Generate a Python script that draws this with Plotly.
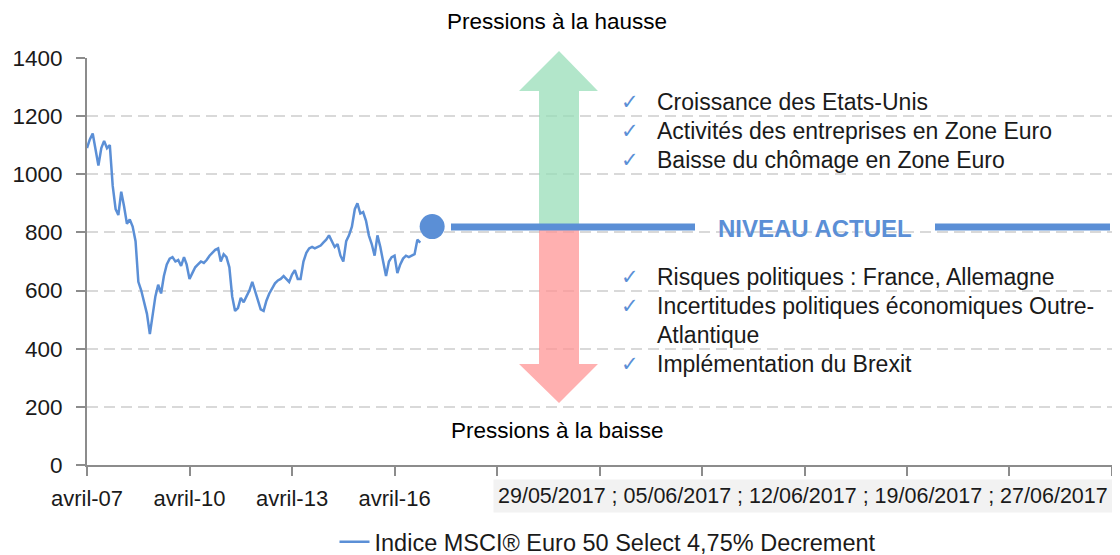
import plotly.graph_objects as go
import pandas as pd

# ---------------- data ----------------
start_month = "2007-04-01"
msci_values = [
    1090, 1120, 1140, 1080, 1030, 1090, 1115, 1090, 1100, 960,
    880, 860, 940, 890, 830, 845, 820, 770, 630, 600,
    560, 520, 450, 520, 580, 620, 590, 650, 690, 710,
    715, 700, 705, 685, 715, 690, 640, 660, 680, 690,
    700, 695, 705, 720, 730, 740, 745, 700, 725, 715,
    680, 580, 530, 540, 575, 560, 580, 600, 630, 600,
    560, 535, 530, 565, 590, 610, 625, 635, 640, 650,
    640, 630, 655, 670, 640, 640, 700, 730, 745, 750,
    745, 750, 755, 765, 775, 790, 770, 750, 760, 720,
    700, 770, 790, 820, 880, 900, 865, 870, 840, 790,
    760, 720, 790, 750, 700, 650, 700, 715, 720, 660,
    690, 710, 720, 715, 720, 725, 775, 765,
]
msci_dates = pd.date_range(start_month, periods=len(msci_values), freq="MS")

current_date = ["2017-05-08"]
current_level = [820]

x_tickvals = ["2007-04-01", "2010-04-01", "2013-04-01", "2016-04-01", "2019-04-01",
              "2022-04-01", "2025-04-01", "2028-04-01", "2031-04-01", "2034-04-01",
              "2037-04-01"]
x_ticktext = ["avril-07", "avril-10", "avril-13", "avril-16", "", "", "", "", "", "", ""]
y_tickvals = [0, 200, 400, 600, 800, 1000, 1200, 1400]

series_name = "Indice MSCI® Euro 50 Select 4,75% Decrement"
title_up = "Pressions à la hausse"
title_down = "Pressions à la baisse"
level_label = "NIVEAU ACTUEL"
upside_factors = ["Croissance des Etats-Unis",
                  "Activités des entreprises en Zone Euro",
                  "Baisse du chômage en Zone Euro"]
downside_factors = ["Risques politiques : France, Allemagne",
                    "Incertitudes politiques économiques Outre-\nAtlantique",
                    "Implémentation du Brexit"]
date_strip = "29/05/2017 ; 05/06/2017 ; 12/06/2017 ; 19/06/2017 ; 27/06/2017"

# ---------------- styling ----------------
# the page body has an 8px margin, so the figure is drawn 8px in from the corner
OFF = 8
W, H = 1120 - OFF, 555 - OFF
PL, PT, PR, PB = 87, 58, 1112, 465          # plot area in page pixels
ML, MT = PL - OFF, PT - OFF
MR, MB = W - (PR - OFF), H - (PB - OFF)
PW, PH = PR - PL, PB - PT
BLUE = "#5B8FD6"
TXT = "#1a1a1a"
FONT = "Liberation Sans, Arial, sans-serif"


def px(x):
    return (x - PL) / PW


def py(y):
    return (PB - y) / PH


fig = go.Figure()
fig.add_trace(go.Scatter(
    x=msci_dates, y=msci_values, mode="lines", name=series_name,
    line=dict(color=BLUE, width=2.5), showlegend=True))
fig.add_trace(go.Scatter(
    x=current_date, y=current_level, mode="markers",
    marker=dict(color=BLUE, size=25), showlegend=False, cliponaxis=False))

shapes = []
# green up arrow
g = [(559, 51), (598, 91), (579, 91), (579, 227), (539, 227), (539, 91), (519, 91)]
path = "M " + " L ".join(f"{px(a):.4f},{py(b):.4f}" for a, b in g) + " Z"
shapes.append(dict(type="path", xref="paper", yref="paper", path=path,
                   fillcolor="rgba(148,221,181,0.72)", line=dict(width=0), layer="above"))
# red down arrow
r = [(559, 403), (598, 364), (579, 364), (579, 227), (539, 227), (539, 364), (519, 364)]
path = "M " + " L ".join(f"{px(a):.4f},{py(b):.4f}" for a, b in r) + " Z"
shapes.append(dict(type="path", xref="paper", yref="paper", path=path,
                   fillcolor="rgba(255,146,146,0.72)", line=dict(width=0), layer="above"))
# current level lines
for x0, x1 in [(451, 695), (935, 1110)]:
    shapes.append(dict(type="line", xref="paper", yref="paper",
                       x0=px(x0), x1=px(x1), y0=py(227), y1=py(227),
                       line=dict(color=BLUE, width=7), layer="above"))

ann = []


def text(t, x, y, size, color=TXT, xanchor="center", family=FONT, **kw):
    ann.append(dict(text=t, x=px(x), y=py(y), xref="paper", yref="paper",
                    xanchor=xanchor, yanchor="middle", showarrow=False,
                    font=dict(size=size, color=color, family=family), **kw))


text(title_up, 557, 21, 22.5, color="#000")
text(title_down, 557, 430, 22.5, color="#000")
text(f"<b>{level_label}</b>", 815, 228, 24, color=BLUE)


def add_list(items, y0):
    y = y0
    for it in items:
        text("✓", 630, y, 21, color=BLUE, family="DejaVu Sans")
        for ln in it.split("\n"):
            text(ln, 655, y, 23, xanchor="left")
            y += 29


add_list(upside_factors, 102)
add_list(downside_factors, 277)

text(date_strip, 803, 496, 21.5, bgcolor="#F2F2F2", borderpad=4)

fig.update_layout(
    width=W, height=H,
    margin=dict(l=ML, r=MR, t=MT, b=MB, autoexpand=False),
    paper_bgcolor="white", plot_bgcolor="white",
    font=dict(family=FONT, size=22, color=TXT),
    shapes=shapes, annotations=ann,
    legend=dict(orientation="h", x=px(608), xanchor="center",
                yref="container", y=(555 - 542) / H, yanchor="middle",
                font=dict(size=23.5, color=TXT), bgcolor="rgba(0,0,0,0)"),
    xaxis=dict(type="date", range=["2007-04-01", "2037-04-01"],
               tickmode="array", tickvals=x_tickvals, ticktext=x_ticktext,
               showgrid=False, showline=True, linecolor="#8C8C8C", linewidth=2,
               ticks="outside", ticklen=9, tickwidth=2, tickcolor="#8C8C8C",
               ticklabelstandoff=4, tickfont=dict(size=22, color=TXT), zeroline=False,
               automargin=False),
    yaxis=dict(range=[0, 1400], tickvals=y_tickvals,
               showgrid=True, gridcolor="#D9D9D9", gridwidth=1.6, griddash="11px,6px",
               showline=True, linecolor="#8C8C8C", linewidth=2,
               ticks="outside", ticklen=9, tickwidth=2, tickcolor="#8C8C8C",
               ticklabelstandoff=9, tickfont=dict(size=22.5, color=TXT), zeroline=False,
               automargin=False),
)

fig.write_html("out.html")
